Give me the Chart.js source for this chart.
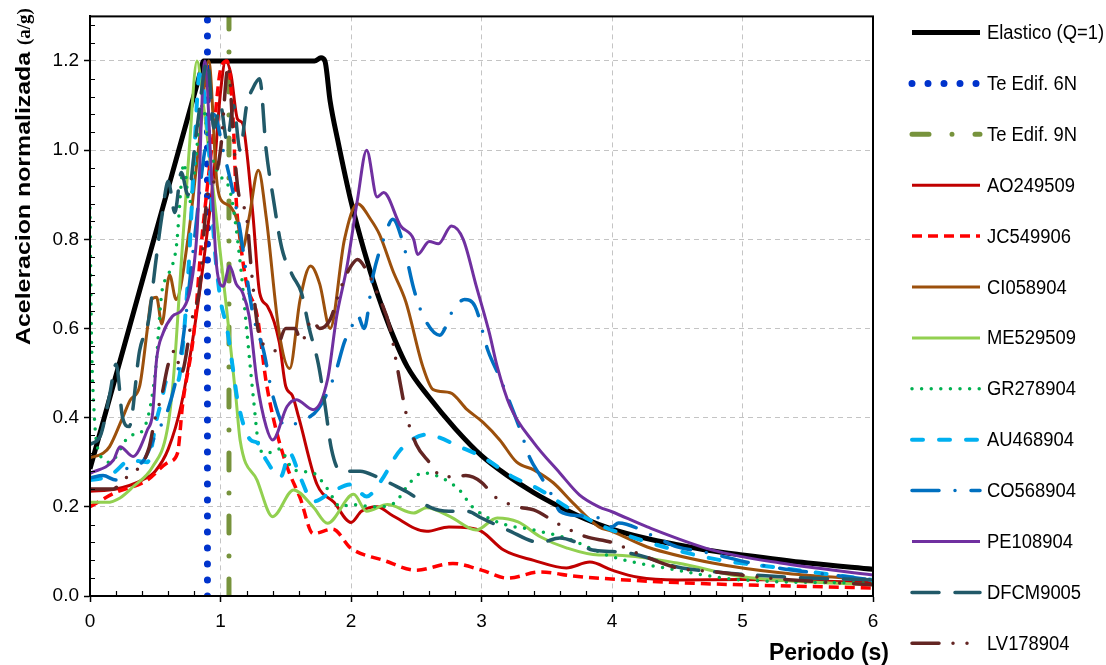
<!DOCTYPE html>
<html>
<head>
<meta charset="UTF-8">
<title>Espectros de respuesta</title>
<script src="https://cdn.jsdelivr.net/npm/chart.js@4.4.1/dist/chart.umd.min.js"></script>
<style>
  body { margin: 0; background: #ffffff; }
  #wrap { width: 1106px; height: 665px; }
</style>
</head>
<body>
<div id="wrap"><canvas id="chart" width="1106" height="665"></canvas></div>
<script>
// ticks
const periodoTicks = [0, 1, 2, 3, 4, 5, 6];
const aceleracionTicks = [0, 0.2, 0.4, 0.6, 0.8, 1.0, 1.2];

// [periodo (s), aceleracion (a/g)]
const elastico = [[0,0.285],[0.4,0.706],[0.8,1.126],[0.85,1.179],[0.87,1.2],[1.2,1.2],[1.5,1.2],[1.72,1.2],[1.77,1.207],
  [1.8,1.2],[1.84,1.11],[1.9,1.02],[2.0,0.885],[2.1,0.775],[2.2,0.68],[2.3,0.6],[2.43,0.515],[2.6,0.445],[2.8,0.375],
  [3.0,0.315],[3.2,0.27],[3.4,0.232],[3.6,0.2],[3.8,0.172],[4.0,0.15],[4.25,0.13],[4.5,0.115],[4.75,0.102],[5.0,0.092],
  [5.5,0.074],[6.0,0.06]];
const teEdif6N = [[0.9,0],[0.9,1.3]];
const teEdif9N = [[1.065,0],[1.065,1.3]];
const AO249509 = [[0,0.235],[0.2,0.24],[0.4,0.26],[0.5,0.28],[0.6,0.33],[0.7,0.43],[0.8,0.6],[0.9,0.82],[0.95,0.95],
  [1.0,1.13],[1.04,1.2],[1.08,1.17],[1.13,1.07],[1.17,1.06],[1.2,1.0],[1.25,0.85],[1.3,0.68],[1.36,0.65],[1.45,0.57],
  [1.5,0.47],[1.55,0.45],[1.6,0.4],[1.74,0.25],[1.87,0.21],[2.0,0.165],[2.08,0.19],[2.2,0.2],[2.32,0.18],[2.58,0.145],
  [2.75,0.155],[2.9,0.153],[3.0,0.145],[3.17,0.103],[3.4,0.08],[3.65,0.063],[3.83,0.076],[4.0,0.058],[4.2,0.042],
  [4.5,0.036],[5.0,0.037],[5.5,0.034],[6.0,0.03]];
const JC549906 = [[0,0.2],[0.18,0.23],[0.44,0.26],[0.6,0.3],[0.67,0.32],[0.71,0.43],[0.8,0.6],[0.85,0.78],[0.9,0.92],
  [0.95,1.05],[1.0,1.18],[1.05,1.2],[1.1,1.05],[1.12,0.89],[1.15,0.8],[1.2,0.7],[1.28,0.63],[1.35,0.48],[1.42,0.38],
  [1.51,0.29],[1.61,0.22],[1.71,0.14],[1.86,0.15],[2.0,0.107],[2.25,0.08],[2.5,0.058],[2.78,0.073],[3.0,0.058],
  [3.2,0.04],[3.45,0.054],[3.7,0.045],[3.9,0.04],[4.5,0.03],[5.0,0.025],[6.0,0.018]];
const CI058904 = [[0,0.31],[0.1,0.32],[0.15,0.335],[0.25,0.4],[0.31,0.44],[0.38,0.47],[0.44,0.6],[0.47,0.665],[0.51,0.67],
  [0.55,0.61],[0.61,0.72],[0.66,0.665],[0.75,0.8],[0.83,1.0],[0.91,1.2],[0.97,0.935],[1.0,0.89],[1.07,0.875],[1.13,0.84],
  [1.17,0.78],[1.22,0.85],[1.29,0.955],[1.35,0.85],[1.45,0.59],[1.53,0.51],[1.61,0.665],[1.69,0.74],[1.76,0.7],[1.84,0.6],
  [1.95,0.8],[2.05,0.88],[2.15,0.845],[2.22,0.81],[2.32,0.73],[2.42,0.66],[2.55,0.515],[2.63,0.463],[2.76,0.456],
  [2.89,0.418],[3.01,0.39],[3.14,0.35],[3.27,0.3],[3.4,0.283],[3.55,0.254],[3.7,0.209],[3.9,0.155],[4.0,0.145],
  [4.27,0.11],[4.77,0.074],[5.29,0.052],[6.0,0.036]];
const ME529509 = [[0,0.21],[0.13,0.21],[0.23,0.22],[0.33,0.245],[0.48,0.29],[0.59,0.37],[0.64,0.49],[0.7,0.75],[0.76,1.0],
  [0.82,1.2],[0.87,1.1],[0.935,0.935],[1.05,0.635],[1.12,0.44],[1.15,0.35],[1.28,0.26],[1.4,0.178],[1.56,0.238],[1.71,0.2],
  [1.82,0.163],[2.02,0.228],[2.12,0.19],[2.28,0.205],[2.48,0.186],[2.58,0.198],[2.76,0.178],[2.96,0.148],[3.12,0.175],
  [3.28,0.166],[3.45,0.133],[3.65,0.108],[3.9,0.092],[4.0,0.092],[4.5,0.074],[5.0,0.043],[6.0,0.025]];
const GR278904 = [[0,0.87],[0.01,0.6],[0.03,0.42],[0.06,0.33],[0.15,0.3],[0.31,0.36],[0.4,0.37],[0.5,0.5],[0.55,0.68],
  [0.6,0.72],[0.66,0.78],[0.72,0.97],[0.76,0.88],[0.8,0.95],[0.86,1.1],[0.92,1.0],[0.98,0.95],[1.08,0.9],[1.15,0.75],
  [1.2,0.6],[1.25,0.45],[1.3,0.33],[1.35,0.32],[1.45,0.33],[1.56,0.283],[1.71,0.276],[1.82,0.24],[1.92,0.2],[2.0,0.205],
  [2.18,0.2],[2.33,0.208],[2.45,0.254],[2.55,0.276],[2.68,0.267],[2.83,0.238],[2.93,0.2],[3.14,0.164],[3.4,0.148],
  [3.65,0.13],[3.9,0.099],[4.0,0.088],[4.4,0.063],[5.0,0.036],[6.0,0.029]];
const AU468904 = [[0,0.26],[0.1,0.265],[0.18,0.276],[0.31,0.305],[0.44,0.3],[0.51,0.395],[0.55,0.44],[0.59,0.485],
  [0.67,0.48],[0.74,0.665],[0.77,0.815],[0.8,1.0],[0.84,1.17],[0.9,1.05],[0.95,0.8],[1.0,0.665],[1.05,0.6],[1.1,0.5],
  [1.13,0.44],[1.23,0.35],[1.28,0.344],[1.35,0.305],[1.46,0.267],[1.53,0.32],[1.61,0.267],[1.71,0.212],[1.86,0.235],
  [2.0,0.25],[2.12,0.223],[2.22,0.254],[2.38,0.328],[2.58,0.362],[2.68,0.355],[2.83,0.335],[3.0,0.313],[3.24,0.267],
  [3.45,0.238],[3.65,0.2],[3.9,0.16],[4.0,0.148],[4.4,0.11],[4.82,0.081],[5.29,0.063],[6.0,0.036]];
const CO568904 = [[0,0.265],[0.1,0.27],[0.2,0.26],[0.3,0.29],[0.4,0.3],[0.5,0.36],[0.6,0.42],[0.7,0.55],[0.8,0.8],
  [0.88,1.0],[0.95,1.08],[1.02,1.0],[1.1,0.9],[1.15,0.82],[1.2,0.72],[1.25,0.63],[1.33,0.55],[1.4,0.45],[1.5,0.38],
  [1.6,0.39],[1.75,0.42],[1.88,0.5],[1.95,0.57],[2.0,0.6],[2.05,0.63],[2.1,0.6],[2.17,0.72],[2.25,0.8],[2.32,0.845],
  [2.4,0.79],[2.48,0.69],[2.55,0.63],[2.68,0.585],[2.78,0.64],[2.87,0.665],[2.95,0.65],[3.05,0.55],[3.14,0.49],
  [3.3,0.37],[3.37,0.31],[3.45,0.27],[3.55,0.22],[3.6,0.19],[3.75,0.18],[3.9,0.175],[4.0,0.155],[4.05,0.164],
  [4.3,0.137],[4.5,0.11],[4.7,0.099],[5.13,0.07],[5.8,0.043],[6.0,0.036]];
const PE108904 = [[0,0.275],[0.18,0.305],[0.23,0.335],[0.33,0.313],[0.44,0.373],[0.48,0.41],[0.51,0.53],[0.56,0.59],
  [0.63,0.627],[0.71,0.643],[0.77,0.69],[0.82,0.815],[0.88,1.2],[0.93,0.95],[0.97,0.74],[1.02,0.695],[1.07,0.74],
  [1.12,0.7],[1.17,0.68],[1.22,0.627],[1.28,0.48],[1.35,0.38],[1.4,0.35],[1.51,0.425],[1.58,0.44],[1.71,0.418],
  [1.82,0.485],[1.89,0.627],[1.97,0.74],[2.05,0.89],[2.12,1.0],[2.2,0.895],[2.25,0.905],[2.38,0.83],[2.48,0.8],
  [2.51,0.766],[2.6,0.795],[2.67,0.79],[2.77,0.83],[2.86,0.8],[2.96,0.695],[3.06,0.59],[3.12,0.515],[3.22,0.425],
  [3.4,0.344],[3.6,0.276],[3.75,0.227],[3.9,0.2],[4.0,0.189],[4.27,0.155],[4.77,0.103],[5.29,0.074],[6.0,0.047]];
const DFCM9005 = [[0,0.34],[0.08,0.36],[0.15,0.45],[0.2,0.52],[0.25,0.4],[0.3,0.38],[0.38,0.55],[0.45,0.62],[0.5,0.74],
  [0.55,0.85],[0.6,0.93],[0.65,0.86],[0.7,0.95],[0.75,0.9],[0.82,1.05],[0.9,1.2],[0.95,1.05],[1.0,1.1],[1.05,1.02],
  [1.1,1.1],[1.15,1.0],[1.2,1.1],[1.25,1.14],[1.3,1.16],[1.35,1.0],[1.4,0.9],[1.47,0.78],[1.55,0.72],[1.62,0.68],
  [1.68,0.6],[1.75,0.52],[1.8,0.43],[1.85,0.33],[1.92,0.28],[2.07,0.28],[2.2,0.267],[2.32,0.25],[2.45,0.23],[2.6,0.2],
  [2.75,0.19],[2.89,0.19],[3.0,0.175],[3.2,0.148],[3.45,0.12],[3.6,0.13],[3.73,0.12],[3.85,0.103],[4.0,0.1],
  [4.2,0.092],[4.5,0.065],[4.8,0.054],[5.3,0.043],[6.0,0.036]];
const LV178904 = [[0,0.24],[0.18,0.24],[0.25,0.26],[0.35,0.28],[0.45,0.33],[0.5,0.4],[0.55,0.45],[0.6,0.52],[0.65,0.55],
  [0.7,0.5],[0.78,0.62],[0.84,0.69],[0.9,0.9],[0.95,0.93],[1.0,1.0],[1.06,1.19],[1.1,1.02],[1.14,0.9],[1.2,0.85],
  [1.24,0.72],[1.3,0.58],[1.36,0.56],[1.42,0.55],[1.5,0.6],[1.57,0.6],[1.62,0.57],[1.7,0.62],[1.76,0.6],[1.84,0.62],
  [1.92,0.69],[2.0,0.74],[2.05,0.755],[2.12,0.73],[2.2,0.68],[2.3,0.6],[2.35,0.52],[2.43,0.4],[2.5,0.34],[2.6,0.3],
  [2.7,0.267],[2.88,0.27],[3.0,0.255],[3.1,0.223],[3.28,0.2],[3.4,0.193],[3.6,0.16],[3.8,0.133],[4.0,0.12],[4.2,0.095],
  [4.5,0.063],[4.8,0.054],[5.2,0.04],[6.0,0.025]];

const series = [
  { label: 'Elastico (Q=1)', pts: elastico, color: '#000000', width: 5, dash: [], cap: 'butt', smooth: true },
  { label: 'Te Edif. 6N', pts: teEdif6N, color: '#0033cc', width: 7, dash: [0, 16], cap: 'round', smooth: false },
  { label: 'Te Edif. 9N', pts: teEdif9N, color: '#77933c', width: 5, dash: [17, 23, 0, 23], cap: 'round', smooth: false },
  { label: 'AO249509', pts: AO249509, color: '#c00000', width: 3, dash: [], cap: 'butt', smooth: true },
  { label: 'JC549906', pts: JC549906, color: '#ff0000', width: 3.5, dash: [10, 6], cap: 'butt', smooth: true },
  { label: 'CI058904', pts: CI058904, color: '#9c500c', width: 3, dash: [], cap: 'butt', smooth: true },
  { label: 'ME529509', pts: ME529509, color: '#92d050', width: 3, dash: [], cap: 'butt', smooth: true },
  { label: 'GR278904', pts: GR278904, color: '#00b050', width: 3.5, dash: [0, 9.6], cap: 'round', smooth: true },
  { label: 'AU468904', pts: AU468904, color: '#00b0f0', width: 4, dash: [11, 16], cap: 'round', smooth: true },
  { label: 'CO568904', pts: CO568904, color: '#0070c0', width: 3.5, dash: [27, 16, 0, 16], cap: 'round', smooth: true },
  { label: 'PE108904', pts: PE108904, color: '#7030a0', width: 3, dash: [], cap: 'butt', smooth: true },
  { label: 'DFCM9005', pts: DFCM9005, color: '#215968', width: 3.5, dash: [27, 16], cap: 'round', smooth: true },
  { label: 'LV178904', pts: LV178904, color: '#632523', width: 3.5, dash: [27, 14, 0, 14, 0, 14], cap: 'round', smooth: true }
];

const FONT = '"Liberation Sans", Arial, sans-serif';

// legend, axis titles, frame and minor ticks
const decorations = {
  id: 'decorations',
  afterDraw(chart) {
    const ctx = chart.ctx;
    const a = chart.chartArea;
    const xs = chart.scales.x, ys = chart.scales.y;

    ctx.save();
    // frame
    ctx.strokeStyle = '#000';
    ctx.lineWidth = 2;
    ctx.setLineDash([]);
    ctx.strokeRect(a.left, a.top, a.right - a.left, a.bottom - a.top);

    // minor ticks (inside)
    ctx.lineWidth = 1.2;
    ctx.beginPath();
    for (let i = 1; i < 30; i++) {
      if (i % 5 === 0) continue;
      const px = Math.round(xs.getPixelForValue(i * 0.2)) + 0.5;
      ctx.moveTo(px, a.bottom); ctx.lineTo(px, a.bottom - 5);
    }
    for (let i = 1; i < 33; i++) {
      if (i % 5 === 0) continue;
      const py = Math.round(ys.getPixelForValue(i * 0.04)) + 0.5;
      ctx.moveTo(a.left, py); ctx.lineTo(a.left + 5, py);
    }
    ctx.stroke();

    // y title (stretched along the text like the original)
    ctx.fillStyle = '#000';
    ctx.translate(30, 345);
    ctx.rotate(-Math.PI / 2);
    ctx.textBaseline = 'alphabetic';
    ctx.textAlign = 'left';
    ctx.font = 'bold 20px ' + FONT;
    const t1 = 'Aceleracion normalizada ';
    const w1 = ctx.measureText(t1).width;
    const sx = 300 / w1;
    ctx.save();
    ctx.scale(sx, 1);
    ctx.fillText(t1, 0, 0);
    ctx.restore();
    ctx.font = 'bold 19px "Liberation Serif", "Times New Roman", serif';
    ctx.fillText('(a/g)', w1 * sx, 0);
    ctx.restore();

    // x title
    ctx.save();
    ctx.fillStyle = '#000';
    ctx.font = 'bold 23px ' + FONT;
    ctx.textAlign = 'right';
    ctx.textBaseline = 'alphabetic';
    ctx.fillText('Periodo (s)', 889, 660);
    ctx.restore();

    // legend
    chart.data.datasets.forEach((ds, i) => {
      const y = 32.5 + i * 50.9;
      ctx.save();
      ctx.beginPath();
      ctx.strokeStyle = ds.borderColor;
      ctx.lineWidth = ds.borderWidth;
      ctx.lineCap = ds.borderCapStyle;
      ctx.setLineDash(ds.borderDash);
      ctx.moveTo(912, y);
      ctx.lineTo(980, y);
      ctx.stroke();
      ctx.restore();

      ctx.save();
      ctx.fillStyle = '#000';
      ctx.font = '20px ' + FONT;
      ctx.textBaseline = 'middle';
      ctx.translate(987, y + 1);
      ctx.scale(0.92, 1);
      ctx.fillText(ds.label, 0, 0);
      ctx.restore();
    });
  }
};

new Chart(document.getElementById('chart'), {
  type: 'scatter',
  data: {
    datasets: series.map((s, i) => ({
      label: s.label,
      data: s.pts.map(p => ({ x: p[0], y: p[1] })),
      showLine: true,
      borderColor: s.color,
      backgroundColor: s.color,
      borderWidth: s.width,
      borderDash: s.dash,
      borderCapStyle: s.cap,
      borderJoinStyle: 'round',
      pointRadius: 0,
      pointHoverRadius: 0,
      tension: 0,
      cubicInterpolationMode: s.smooth ? 'monotone' : 'default',
      order: series.length - i
    }))
  },
  options: {
    responsive: false,
    animation: false,
    devicePixelRatio: 1,
    layout: { padding: { left: 0, top: 16, right: 233, bottom: 0 } },
    plugins: {
      legend: { display: false },
      tooltip: { enabled: false }
    },
    scales: {
      x: {
        type: 'linear',
        min: 0, max: 6,
        afterFit: s => { s.height = 69; },
        afterBuildTicks: s => { s.ticks = periodoTicks.map(v => ({ value: v })); },
        grid: { color: '#c4c4c4', lineWidth: 1, drawTicks: true, tickLength: 6, tickColor: '#000', tickWidth: 1.5, tickBorderDash: [] },
        border: { display: true, color: '#000', width: 2, dash: [5, 4] },
        ticks: { color: '#000', font: { family: FONT, size: 19 }, padding: 8, maxRotation: 0,
          callback: v => String(v) }
      },
      y: {
        type: 'linear',
        min: 0, max: 1.3,
        afterFit: s => { s.width = 90; },
        afterBuildTicks: s => { s.ticks = aceleracionTicks.map(v => ({ value: v })); },
        grid: { color: '#c4c4c4', lineWidth: 1, drawTicks: true, tickLength: 6, tickColor: '#000', tickWidth: 1.5, tickBorderDash: [] },
        border: { display: true, color: '#000', width: 2, dash: [5, 4] },
        ticks: { color: '#000', font: { family: FONT, size: 19 }, padding: 5,
          callback: v => Number(v).toFixed(1) }
      }
    }
  },
  plugins: [decorations]
});
</script>
</body>
</html>
